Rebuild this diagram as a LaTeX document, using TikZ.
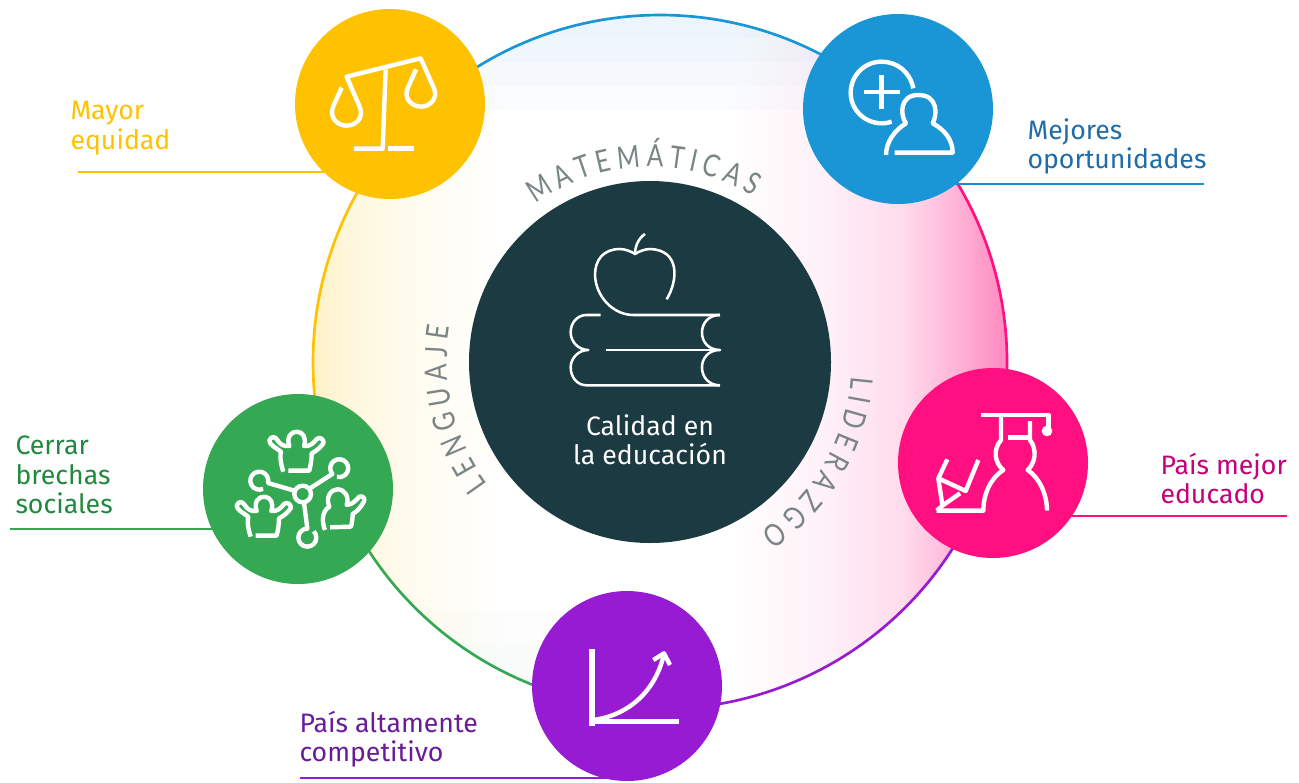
\documentclass[tikz,border=0pt]{standalone}
\usepackage{fontspec}
\setmainfont{Fira Sans}
\newfontfamily\arcfamily[FakeStretch=0.8]{Lato}
\usetikzlibrary{backgrounds,decorations.text}

\definecolor{equidadc}{HTML}{FFC200}
\definecolor{oportc}{HTML}{1A95D5}
\definecolor{oporttext}{HTML}{1F6CA8}
\definecolor{paisc}{HTML}{FF0F7F}
\definecolor{paistext}{HTML}{C4007A}
\definecolor{brechac}{HTML}{34A853}
\definecolor{brechatext}{HTML}{1F8A3E}
\definecolor{compc}{HTML}{961BD2}
\definecolor{comptext}{HTML}{6A1B9A}
\definecolor{centerc}{HTML}{1C3A42}
\definecolor{arcgray}{HTML}{7A8585}

\newcommand{\arcfont}{\fontsize{23}{23}\selectfont\arcfamily}
\newcommand{\raisedperson}{%
  \draw[iconline] (250,245) .. controls (240,215) and (240,195) .. (243,185) .. controls (230,175) and (208,165) .. (208,152) .. controls (213,138) and (225,138) .. (232,150) .. controls (240,165) and (255,170) .. (268,168) .. controls (258,140) and (275,125) .. (290,125) .. controls (310,125) and (320,145) .. (312,168) .. controls (330,170) and (340,160) .. (350,147) .. controls (360,138) and (374,150) .. (370,160) .. controls (360,175) and (345,185) .. (335,190) .. controls (335,210) and (332,225) .. (328,242) -- (265,242);%
}

% stops run from 25bp (x=312) to 75bp (x=1008)
\pgfdeclarehorizontalshading{discglow}{100bp}{
  color(0bp)=(equidadc!22!white);
  color(25bp)=(equidadc!22!white);
  color(27.5bp)=(equidadc!14!white);
  color(31.5bp)=(equidadc!7!white);
  color(39bp)=(white);
  color(55bp)=(white);
  color(62bp)=(paisc!6!white);
  color(67.5bp)=(paisc!15!white);
  color(71bp)=(paisc!30!white);
  color(75bp)=(paisc!50!white);
  color(100bp)=(paisc!50!white)}

\tikzset{
  every picture/.style={line width=0.75pt},
  iconcircle/.style={circle,fill=#1,minimum size=142.5pt,inner sep=0pt},
  labeltext/.style={align=left,anchor=west,inner sep=0pt,font=\fontsize{20}{22.1}\selectfont},
  leader/.style={line width=2pt},
  ringarc/.style={line width=2pt},
  iconline/.style={draw=white,line width=3.3pt,line join=round},
  thinline/.style={draw=white,line width=1.9pt,line join=round},
  arctext/.style={decorate,decoration={text along path,text={|\arcfont|#1},text color=arcgray,text align={fit to path}}}
}

\begin{document}
\begin{tikzpicture}[x=0.75pt,y=0.75pt,yscale=-1,xscale=1]
	\useasboundingbox (0,0) rectangle (1299,782);

	%Circles
	\node[circle,fill=centerc,minimum size=271.5pt,inner sep=0pt] (centerCircle) at (650,362) {};
	\node[iconcircle=equidadc] (equidadCircle) at (390,104) {};
	\node[iconcircle=oportc] (oportCircle) at (898,109) {};
	\node[iconcircle=paisc] (paisCircle) at (993,463) {};
	\node[iconcircle=brechac] (brechaCircle) at (298,489) {};
	\node[iconcircle=compc] (compCircle) at (627,686) {};

	%Labels
	\node[labeltext,text=equidadc] (equidadLabel) at (70,128) {Mayor\\equidad};
	\node[labeltext,text=oporttext] (oportLabel) at (1027,146.5) {Mejores\\oportunidades};
	\node[labeltext,text=paistext] (paisLabel) at (1160,478.5) {País mejor\\educado};
	\node[labeltext,text=brechatext] (brechaLabel) at (15,475) {Cerrar\\brechas\\sociales};
	\node[labeltext,text=comptext] (compLabel) at (299,739) {País altamente\\competitivo};
	\node[align=center,inner sep=0pt,text=white,font=\fontsize{20}{22.1}\selectfont] (centerLabel) at (650,439.5) {Calidad en\\la educación};

	%Leader ends
	\coordinate (equidadEnd) at (78,172);
	\coordinate (oportEnd) at (1204,184);
	\coordinate (paisEnd) at (1287,516);
	\coordinate (brechaEnd) at (10,529);
	\coordinate (compEnd) at (300,778);

	\begin{scope}[on background layer]
		%Disc and its glow
		\begin{scope}
			\clip (660,362) circle[radius=347];
			\shade[shading=discglow] (312,0) rectangle (1008,782);
			\foreach \i in {1,...,4}
				\fill[oportc,opacity=0.02] (300,14) rectangle (1010,14+\i*24);
			\foreach \i in {1,...,3}
				\fill[brechac,opacity=0.012] (300,710-\i*33) rectangle (700,710);
		\end{scope}
		%Ring
		\draw[ringarc,oportc] (660,362) ++(-136:347) arc[start angle=-136,end angle=-47,radius=347];
		\draw[ringarc,paisc] (660,362) ++(-47:347) arc[start angle=-47,end angle=17,radius=347];
		\draw[ringarc,compc] (660,362) ++(17:347) arc[start angle=17,end angle=96,radius=347];
		\draw[ringarc,brechac] (660,362) ++(96:347) arc[start angle=96,end angle=161,radius=347];
		\draw[ringarc,equidadc] (660,362) ++(161:347) arc[start angle=161,end angle=224,radius=347];
		%Leaders
		\draw[leader,equidadc] (equidadEnd) -- (equidadEnd -| equidadCircle);
		\draw[leader,oportc!80!oporttext] (oportEnd) -- (oportEnd -| oportCircle);
		\draw[leader,paisc] (paisEnd) -- (paisEnd -| paisCircle);
		\draw[leader,brechac] (brechaEnd) -- (brechaEnd -| brechaCircle);
		\draw[leader,compc] (compEnd) -- (compEnd -| compCircle);
	\end{scope}

	%Arc texts
	\path[arctext={MATEMÁTICAS}] (650,362) ++(-126:195) arc[start angle=-126,end angle=-58,radius=195];
	\path[arctext={LENGUAJE}] (650,362) ++(143:203) arc[start angle=143,end angle=190,radius=203];
	\path[arctext={LIDERAZGO}] (650,362) ++(4:202) arc[start angle=4,end angle=57,radius=202];

	%Scale
	\begin{scope}[shift={(290,10)},scale=0.3333]
		\draw[iconline] (155,233) -- (130,288) .. controls (115,325) and (145,347) .. (170,347) .. controls (195,347) and (225,325) .. (208,288) -- (170,200) -- (392,145) -- (432,235) .. controls (445,265) and (420,290) .. (393,290) .. controls (365,290) and (340,265) .. (353,235) -- (378,178);
		\draw[iconline] (287,178) -- (278,416) -- (192,416);
		\draw[iconline] (295,416) -- (372,416);
	\end{scope}

	%Person with plus
	\begin{scope}[shift={(800,10)},scale=0.3333]
		\draw[iconline] (340,235) .. controls (330,185) and (290,155) .. (245,155) .. controls (190,155) and (152,200) .. (152,248) .. controls (152,300) and (195,340) .. (245,340) .. controls (255,340) and (265,339) .. (275,335);
		\draw[iconline] (192,246) -- (300,246);
		\draw[iconline] (245,194) -- (245,298);
		\draw[iconline] (258,435) .. controls (258,395) and (285,360) .. (318,340) .. controls (300,315) and (298,255) .. (355,255) .. controls (415,255) and (412,315) .. (398,340) .. controls (435,360) and (458,390) .. (458,428) -- (284,428);
	\end{scope}

	%Graduate and pencil
	\begin{scope}[shift={(895,365)},scale=0.3333]
		\draw[iconline] (258,150) -- (460,150) -- (460,190);
		\fill[white] (456,198) circle[radius=16];
		\draw[iconline] (318,150) -- (318,225) .. controls (292,255) and (300,295) .. (325,315) .. controls (285,340) and (265,390) .. (265,437) -- (125,437);
		\draw[iconline] (338,218) -- (405,218);
		\draw[iconline] (405,168) -- (405,225) .. controls (428,255) and (420,295) .. (398,315) .. controls (435,340) and (456,390) .. (456,437);
		\draw[iconline] (157,283) -- (130,340) -- (212,378) -- (250,285);
		\draw[iconline] (130,340) -- (142,420);
		\draw[iconline] (195,385) -- (145,420) -- (125,437);
	\end{scope}

	%Network of people
	\begin{scope}[shift={(200,390)},scale=0.3333]
		\raisedperson
		\begin{scope}[shift={(-98,195)}]
			\raisedperson
		\end{scope}
		\draw[iconline] (375,420) .. controls (365,395) and (365,365) .. (388,350) .. controls (375,320) and (395,298) .. (412,298) .. controls (435,298) and (448,320) .. (440,345) .. controls (455,345) and (470,330) .. (478,320) .. controls (490,315) and (498,328) .. (490,338) .. controls (480,355) and (470,365) .. (458,372) .. controls (458,385) and (456,398) .. (453,410) -- (390,412);
		\draw[iconline] (308,312) circle[radius=25];
		\draw[iconline] (283,302) -- (204,279) arc[start angle=15,end angle=-295,radius=27];
		\draw[iconline] (330,295) -- (397,252) arc[start angle=140,end angle=465,radius=27];
		\draw[iconline] (312,337) -- (322,416) arc[start angle=-90,end angle=-405,radius=27];
	\end{scope}

	%Growth chart
	\begin{scope}[shift={(530,590)},scale=0.3333]
		\draw[iconline,line width=4pt] (186,178) -- (186,408);
		\draw[iconline,line width=4pt] (186,395) -- (446,395);
		\draw[iconline] (190,390) .. controls (300,375) and (375,300) .. (400,200);
		\draw[iconline] (370,210) -- (402,190) -- (420,225);
	\end{scope}

	%Apple on books
	\begin{scope}[shift={(550,220)},scale=0.3333]
		\draw[thinline] (285,42) .. controls (265,55) and (255,80) .. (255,102);
		\draw[thinline] (350,238) .. controls (385,180) and (390,90) .. (300,87) .. controls (285,87) and (265,95) .. (255,102) .. controls (245,95) and (225,87) .. (210,87) .. controls (160,87) and (135,120) .. (135,165) .. controls (137,230) and (190,285) .. (250,285) -- (510,285);
		\draw[thinline] (152,285) -- (110,285) .. controls (80,285) and (62,310) .. (62,337) .. controls (62,365) and (85,390) .. (115,390) .. controls (85,390) and (62,415) .. (62,442) .. controls (62,470) and (80,496) .. (110,496) -- (510,496);
		\draw[thinline] (167,390) -- (510,390);
		\draw[thinline] (510,285) .. controls (475,285) and (456,310) .. (456,338) .. controls (456,365) and (475,390) .. (510,390) .. controls (475,390) and (456,415) .. (456,442) .. controls (456,470) and (475,496) .. (510,496);
	\end{scope}
\end{tikzpicture}
\end{document}
